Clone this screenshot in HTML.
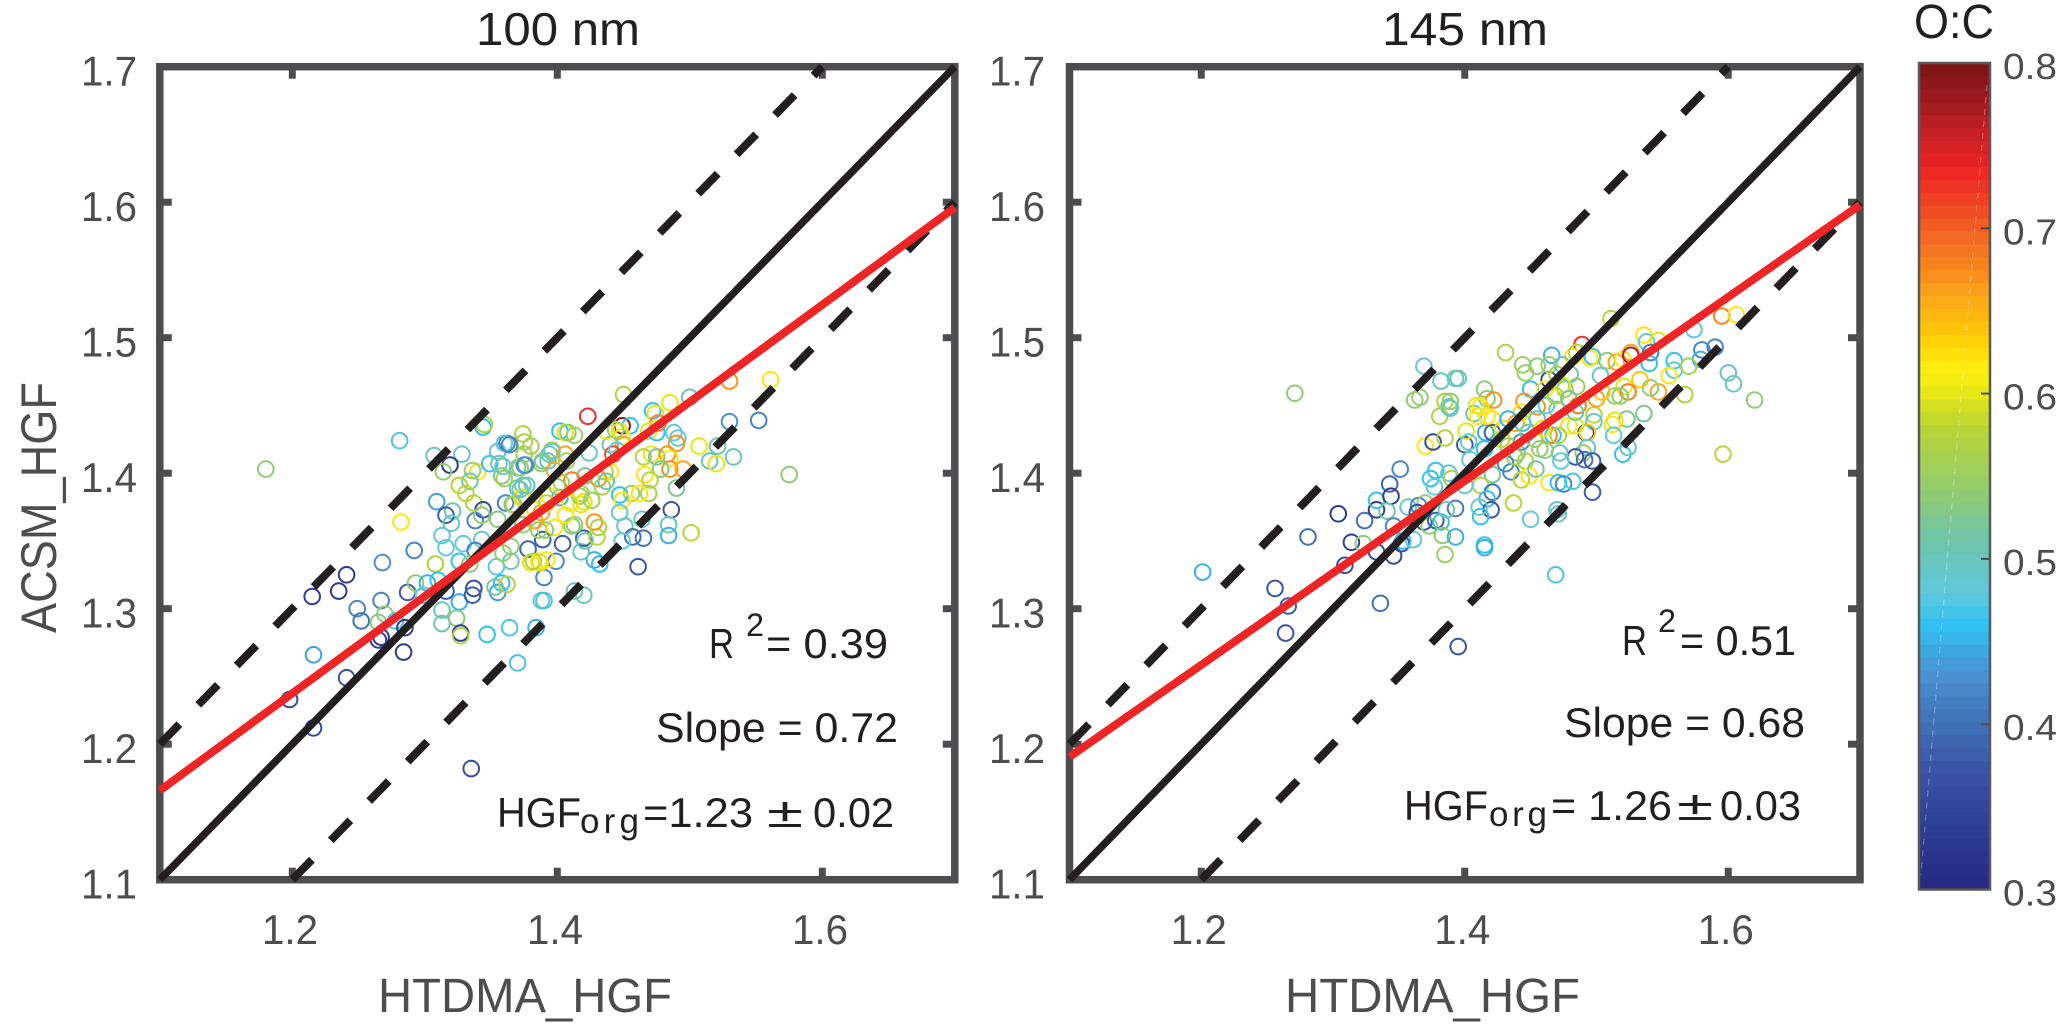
<!DOCTYPE html>
<html>
<head>
<meta charset="utf-8">
<title>ACSM vs HTDMA HGF</title>
<style>
html,body{margin:0;padding:0;background:#fff}
svg{display:block}
text{font-family:"Liberation Sans",sans-serif}
.dark{fill:#231f20}
.gray{fill:#4d4d4f}
</style>
</head>
<body>
<svg id="chart" width="2067" height="1026" viewBox="0 0 2067 1026" xmlns="http://www.w3.org/2000/svg">
<rect width="2067" height="1026" fill="#fff"/>
<g id="panel-a"></g>
<g id="panel-b"></g>
<g id="colorbar"></g>

<text class="dark" x="476" y="45" font-size="46" textLength="164" lengthAdjust="spacingAndGlyphs">100 nm</text>
<text class="dark" x="1382" y="45" font-size="46" textLength="166" lengthAdjust="spacingAndGlyphs">145 nm</text>
<text class="dark" x="1914" y="38" font-size="48" textLength="80" lengthAdjust="spacingAndGlyphs">O:C</text>

<text class="gray" transform="translate(56,633) rotate(-90)" font-size="50" textLength="251" lengthAdjust="spacingAndGlyphs">ACSM_HGF</text>
<text class="gray" x="378" y="1012" font-size="48" textLength="294" lengthAdjust="spacingAndGlyphs">HTDMA_HGF</text>
<text class="gray" x="1285" y="1012" font-size="48" textLength="295" lengthAdjust="spacingAndGlyphs">HTDMA_HGF</text>

<g class="dark">
<text x="709" y="658" font-size="42" textLength="25" lengthAdjust="spacingAndGlyphs">R</text>
<text x="746" y="636" font-size="32" textLength="18" lengthAdjust="spacingAndGlyphs">2</text>
<text x="766" y="658" font-size="42" textLength="122" lengthAdjust="spacingAndGlyphs">= 0.39</text>
<text x="656" y="742" font-size="42" textLength="242" lengthAdjust="spacingAndGlyphs">Slope = 0.72</text>
<text x="497" y="827" font-size="42" textLength="84" lengthAdjust="spacingAndGlyphs">HGF</text>
<text x="580" y="833" font-size="35" textLength="59" lengthAdjust="spacing">org</text>
<text x="643" y="827" font-size="42" textLength="110" lengthAdjust="spacingAndGlyphs">=1.23</text>
<text x="767" y="827" font-size="42" textLength="36" lengthAdjust="spacingAndGlyphs">±</text>
<text x="813" y="827" font-size="42" textLength="81" lengthAdjust="spacingAndGlyphs">0.02</text>
</g>
<g class="dark">
<text x="1622" y="655" font-size="42" textLength="25" lengthAdjust="spacingAndGlyphs">R</text>
<text x="1658" y="632" font-size="32" textLength="18" lengthAdjust="spacingAndGlyphs">2</text>
<text x="1680" y="655" font-size="42" textLength="116" lengthAdjust="spacingAndGlyphs">= 0.51</text>
<text x="1564" y="737" font-size="42" textLength="241" lengthAdjust="spacingAndGlyphs">Slope = 0.68</text>
<text x="1404" y="820" font-size="42" textLength="84" lengthAdjust="spacingAndGlyphs">HGF</text>
<text x="1489" y="826" font-size="35" textLength="58" lengthAdjust="spacing">org</text>
<text x="1551" y="820" font-size="42" textLength="121" lengthAdjust="spacingAndGlyphs">= 1.26</text>
<text x="1677" y="820" font-size="42" textLength="36" lengthAdjust="spacingAndGlyphs">±</text>
<text x="1720" y="820" font-size="42" textLength="81" lengthAdjust="spacingAndGlyphs">0.03</text>
</g>
</svg>
<script>
const xTickValues = [1.2, 1.4, 1.6];
const yTickValues = [1.1, 1.2, 1.3, 1.4, 1.5, 1.6, 1.7];
const xDomain = [1.1, 1.7];
const yDomain = [1.1, 1.7];
const fitSlope100 = 0.717;
const fitIntercept100 = 0.3771;
const fitSlope145 = 0.679;
const fitIntercept145 = 0.4437;
const oneToOneOffset = [0, 0.1, -0.1];
const colorbarTicks = [0.3, 0.4, 0.5, 0.6, 0.7, 0.8];
const colorStopValues = [0.30,0.34,0.37,0.40,0.43,0.46,0.48,0.513,0.537,0.58,0.60,0.614,0.635,0.66,0.68,0.70,0.72,0.737,0.76,0.775,0.80];
const colorStopHexes = ["#27297f","#2f3f98","#3a52a4","#4070b5","#4a90cf","#30c0f2","#62c8dc","#6fc4a8","#8ecb78","#b9d433","#e5e616","#fdf010","#ffcc05","#fba51a","#f7811f","#f15f24","#ef3b24","#ee2424","#c22026","#a01c20","#7a1416"];

const htdma100 = [
1.180,1.281,1.344,1.345,1.307,1.328,1.319,1.314,1.340,1.336,
1.349,1.356,1.355,1.362,1.374,1.375,1.380,1.375,1.375,1.370,
1.358,1.374,1.370,1.388,1.394,1.334,1.326,1.331,1.337,1.309,
1.344,1.321,1.316,1.338,1.343,1.320,1.355,1.361,1.366,1.373,
1.282,1.313,1.316,1.329,1.343,1.338,1.292,1.268,1.308,1.326,
1.334,1.354,1.365,1.359,1.365,1.378,1.389,1.374,1.386,1.380,
1.386,1.241,1.235,1.215,1.249,1.252,1.267,1.287,1.293,1.302,
1.310,1.316,1.299,1.326,1.337,1.336,1.355,1.358,1.353,1.362,
1.390,1.388,1.313,1.313,1.324,1.327,1.327,1.347,1.364,1.384,
1.270,1.265,1.278,1.285,1.267,1.265,1.284,1.216,1.370,1.241,
1.198,1.216,1.335,1.450,1.423,1.402,1.406,1.408,1.413,1.449,
1.455,1.447,1.449,1.450,1.440,1.437,1.444,1.472,1.474,1.485,
1.500,1.476,1.469,1.475,1.488,1.491,1.490,1.507,1.521,1.530,
1.561,1.530,1.552,1.533,1.515,1.520,1.575,1.471,1.465,1.475,
1.483,1.485,1.485,1.495,1.478,1.442,1.436,1.440,1.466,1.470,
1.431,1.490,1.469,1.456,1.462,1.447,1.449,1.486,1.447,1.464,
1.484,1.451,1.501,1.484,1.465,1.457,1.449,1.461,1.432,1.428,
1.390,1.413,1.420,1.399,1.392,1.387,1.382,1.404,1.418,1.420,
1.421,1.430,1.428,1.431,1.413,1.411,1.406,1.398,1.391,1.418,
1.420,1.426,1.417,1.402,1.394,1.388,1.383,1.374,1.367,1.372,
1.377,1.360,1.359,1.372,1.376,1.360,1.364,1.389,1.396,1.396,
1.393,1.406,1.398,1.407,1.424,1.421,1.411,1.403,1.434,1.418,
1.437,1.445,1.383,1.392,1.400,1.410];
const acsm100 = [
1.403,1.424,1.434,1.436,1.413,1.414,1.406,1.401,1.401,1.402,
1.407,1.407,1.416,1.422,1.429,1.423,1.420,1.414,1.406,1.404,
1.398,1.391,1.389,1.407,1.414,1.394,1.391,1.385,1.378,1.379,
1.373,1.372,1.369,1.365,1.369,1.363,1.366,1.378,1.377,1.382,
1.364,1.354,1.345,1.348,1.351,1.343,1.343,1.334,1.333,1.335,
1.333,1.331,1.335,1.341,1.346,1.344,1.351,1.362,1.358,1.334,
1.335,1.325,1.313,1.309,1.300,1.291,1.306,1.312,1.319,1.319,
1.321,1.313,1.310,1.305,1.315,1.310,1.312,1.319,1.316,1.318,
1.323,1.306,1.299,1.289,1.293,1.282,1.280,1.281,1.286,1.286,
1.296,1.290,1.291,1.286,1.279,1.277,1.268,1.266,1.260,1.249,
1.233,1.212,1.182,1.458,1.442,1.431,1.430,1.430,1.428,1.435,
1.435,1.431,1.427,1.421,1.421,1.431,1.432,1.446,1.444,1.452,
1.456,1.437,1.431,1.430,1.430,1.426,1.422,1.420,1.420,1.468,
1.469,1.438,1.439,1.412,1.409,1.407,1.399,1.414,1.412,1.412,
1.414,1.411,1.403,1.403,1.403,1.414,1.401,1.401,1.399,1.395,
1.396,1.389,1.385,1.385,1.385,1.384,1.380,1.373,1.371,1.366,
1.362,1.361,1.356,1.354,1.352,1.353,1.350,1.331,1.333,1.336,
1.306,1.313,1.310,1.335,1.336,1.334,1.335,1.348,1.342,1.352,
1.350,1.353,1.364,1.360,1.362,1.361,1.369,1.360,1.358,1.377,
1.379,1.380,1.383,1.382,1.383,1.371,1.373,1.382,1.377,1.388,
1.391,1.396,1.405,1.404,1.406,1.422,1.421,1.409,1.417,1.416,
1.409,1.414,1.402,1.409,1.415,1.398,1.395,1.393,1.390,1.385,
1.394,1.417,1.365,1.378,1.390,1.378];
const oc100 = [
.54,.47,.46,.57,.5,.5,.33,.54,.62,.55,
.46,.5,.5,.42,.57,.57,.56,.56,.43,.52,
.53,.5,.5,.54,.5,.5,.58,.58,.57,.44,
.36,.5,.38,.42,.54,.49,.53,.42,.52,.6,
.62,.48,.48,.48,.5,.42,.42,.43,.57,.46,
.54,.48,.5,.54,.54,.39,.38,.54,.55,.6,
.62,.33,.33,.34,.42,.40,.42,.38,.54,.45,
.46,.38,.48,.45,.36,.38,.44,.46,.52,.57,
.42,.48,.5,.51,.53,.34,.57,.46,.47,.45,
.54,.53,.47,.33,.33,.34,.33,.44,.47,.37,
.36,.36,.36,.57,.73,.46,.6,.54,.55,.79,
.46,.6,.62,.66,.5,.6,.56,.46,.6,.6,
.5,.68,.6,.46,.48,.48,.67,.6,.5,.67,
.62,.43,.42,.5,.5,.6,.54,.6,.58,.52,
.67,.62,.67,.66,.53,.71,.58,.62,.62,.58,
.67,.52,.56,.55,.62,.46,.62,.37,.48,.5,
.5,.5,.58,.45,.4,.4,.48,.37,.46,.45,
.47,.5,.5,.42,.62,.6,.58,.38,.5,.38,
.5,.58,.67,.57,.54,.53,.62,.62,.54,.6,
.6,.55,.55,.45,.62,.66,.6,.6,.57,.5,
.5,.56,.5,.54,.43,.48,.42,.53,.57,.48,
.5,.66,.66,.56,.5,.52,.68,.57,.56,.56,
.5,.48,.66,.58,.54,.62];

const htdma145 = [
1.201,1.281,1.304,1.324,1.314,1.323,1.333,1.309,1.333,1.333,
1.343,1.344,1.351,1.341,1.346,1.352,1.346,1.353,1.361,1.357,
1.365,1.370,1.364,1.369,1.373,1.378,1.374,1.377,1.388,1.390,
1.378,1.382,1.383,1.393,1.385,1.393,1.386,1.256,1.266,1.264,
1.336,1.395,1.370,1.376,1.385,1.400,1.401,1.403,1.381,1.388,
1.362,1.385,1.271,1.431,1.511,1.489,1.466,1.482,1.485,1.497,
1.495,1.508,1.515,1.520,1.526,1.526,1.536,1.538,1.547,1.541,
1.540,1.574,1.595,1.606,1.590,1.580,1.579,1.559,1.559,1.570,
1.555,1.600,1.604,1.620,1.567,1.547,1.541,1.533,1.521,1.524,
1.518,1.514,1.503,1.485,1.536,1.523,1.514,1.512,1.513,1.498,
1.500,1.486,1.470,1.498,1.492,1.493,1.479,1.484,1.467,1.464,
1.471,1.520,1.524,1.596,1.493,1.490,1.484,1.491,1.497,1.473,
1.472,1.461,1.457,1.446,1.440,1.443,1.464,1.476,1.470,1.450,
1.461,1.445,1.455,1.444,1.446,1.455,1.464,1.474,1.480,1.393,
1.415,1.417,1.422,1.407,1.409,1.410,1.421,1.389,1.389,1.416,
1.421,1.429,1.444,1.439,1.404,1.421,1.431,1.435,1.443,1.449,
1.454,1.464,1.471,1.475,1.482,1.497,1.437,1.412,1.400,1.421,
1.417,1.420,1.411,1.412,1.450,1.470,1.471,1.469,1.415,1.415,
1.369,1.382,1.395,1.366,1.412,1.417,1.433,1.438,1.428,1.415,
1.448,1.455,1.462,1.469,1.474,1.479,1.453,1.459,1.443,1.433,
1.484,1.504];
const acsm145 = [
1.327,1.353,1.370,1.365,1.349,1.348,1.342,1.332,1.373,1.380,
1.392,1.383,1.403,1.372,1.361,1.348,1.339,1.350,1.351,1.375,
1.376,1.378,1.371,1.364,1.361,1.402,1.396,1.390,1.400,1.396,
1.365,1.364,1.354,1.353,1.340,1.374,1.373,1.315,1.302,1.282,
1.304,1.272,1.420,1.423,1.426,1.421,1.431,1.423,1.442,1.449,
1.454,1.453,1.459,1.489,1.514,1.495,1.487,1.486,1.489,1.486,
1.485,1.483,1.482,1.484,1.489,1.487,1.502,1.497,1.498,1.489,
1.481,1.506,1.516,1.517,1.493,1.491,1.484,1.483,1.476,1.479,
1.472,1.474,1.466,1.454,1.458,1.460,1.463,1.469,1.464,1.460,
1.457,1.457,1.472,1.464,1.444,1.440,1.439,1.436,1.428,1.443,
1.455,1.450,1.447,1.438,1.430,1.430,1.435,1.435,1.428,1.428,
1.428,1.414,1.419,1.414,1.419,1.415,1.412,1.410,1.409,1.409,
1.415,1.417,1.418,1.409,1.415,1.423,1.469,1.462,1.473,1.462,
1.462,1.453,1.449,1.480,1.474,1.479,1.480,1.480,1.473,1.470,
1.462,1.455,1.454,1.444,1.450,1.442,1.440,1.453,1.448,1.430,
1.430,1.433,1.437,1.437,1.410,1.399,1.407,1.401,1.395,1.398,
1.403,1.393,1.393,1.392,1.394,1.386,1.378,1.391,1.391,1.386,
1.381,1.373,1.375,1.368,1.366,1.373,1.370,1.325,1.347,1.345,
1.479,1.468,1.470,1.456,1.449,1.442,1.420,1.412,1.425,1.418,
1.430,1.440,1.450,1.457,1.465,1.455,1.425,1.433,1.445,1.440,
1.445,1.460];
const oc145 = [
.45,.4,.33,.4,.34,.54,.35,.36,.34,.46,
.39,.34,.42,.51,.42,.36,.35,.46,.48,.48,
.42,.54,.36,.38,.54,.46,.46,.48,.48,.57,
.38,.46,.54,.45,.55,.41,.5,.37,.38,.37,
.4,.37,.62,.36,.57,.38,.6,.48,.57,.5,
.54,.57,.54,.57,.58,.73,.45,.62,.58,.46,
.62,.54,.66,.62,.66,.77,.62,.48,.6,.42,
.46,.48,.68,.62,.42,.42,.45,.46,.48,.56,
.62,.5,.5,.54,.57,.66,.54,.64,.6,.68,
.54,.55,.5,.55,.52,.52,.6,.62,.48,.58,
.66,.68,.53,.48,.36,.64,.62,.6,.46,.68,
.57,.46,.5,.58,.48,.55,.37,.4,.38,.48,
.5,.54,.54,.57,.54,.43,.36,.55,.57,.46,
.62,.67,.67,.55,.55,.54,.55,.5,.5,.5,
.54,.54,.67,.5,.6,.62,.62,.54,.5,.45,
.38,.6,.46,.66,.48,.52,.42,.42,.58,.62,
.52,.62,.46,.42,.47,.38,.58,.57,.48,.4,
.46,.37,.5,.46,.48,.5,.5,.47,.46,.45,
.48,.5,.5,.54,.62,.62,.54,.55,.58,.46,
.52,.5,.48,.57,.6,.52,.55,.6,.62,.45,
.5,.64];

const NS = 'http://www.w3.org/2000/svg';
const AXIS_GRAY = '#4d4d4f';
const INK = '#231f20';

function svgEl(tag, parent) {
  const el = document.createElementNS(NS, tag);
  parent.appendChild(el);
  return el;
}
function hexToRgb(h) {
  return [parseInt(h.slice(1,3),16), parseInt(h.slice(3,5),16), parseInt(h.slice(5,7),16)];
}
function colorFor(v) {
  const n = colorStopValues.length;
  if (v <= colorStopValues[0]) return colorStopHexes[0];
  if (v >= colorStopValues[n-1]) return colorStopHexes[n-1];
  for (let i = 1; i < n; i++) {
    if (v <= colorStopValues[i]) {
      const t = (v - colorStopValues[i-1]) / (colorStopValues[i] - colorStopValues[i-1]);
      const a = hexToRgb(colorStopHexes[i-1]);
      const b = hexToRgb(colorStopHexes[i]);
      return 'rgb(' + a.map(function (c, k) { return Math.round(c + (b[k] - c) * t); }).join(',') + ')';
    }
  }
  return colorStopHexes[n-1];
}
function drawLine(g, x1, y1, x2, y2, color, width, dash) {
  const l = svgEl('line', g);
  l.setAttribute('x1', x1);
  l.setAttribute('y1', y1);
  l.setAttribute('x2', x2);
  l.setAttribute('y2', y2);
  l.setAttribute('stroke', color);
  l.setAttribute('stroke-width', width);
  if (dash) l.setAttribute('stroke-dasharray', dash);
  return l;
}
function drawPanel(g, box, xVals, yVals, ocVals, fitSlope, fitIntercept, yLabelEnd, xLabelShift) {
  const sx = function (v) { return box.left + (v - xDomain[0]) / (xDomain[1] - xDomain[0]) * (box.right - box.left); };
  const sy = function (v) { return box.bottom - (v - yDomain[0]) / (yDomain[1] - yDomain[0]) * (box.bottom - box.top); };

  const frame = svgEl('rect', g);
  
  
  frame.setAttribute('x', box.left);
  frame.setAttribute('y', box.top);
  frame.setAttribute('width', box.right - box.left);
  frame.setAttribute('height', box.bottom - box.top);
  frame.setAttribute('fill', 'none');
  frame.setAttribute('stroke', AXIS_GRAY);
  frame.setAttribute('stroke-width', 7.5);

  xTickValues.forEach(function (v) {
    const b = drawLine(g, sx(v), box.bottom, sx(v), box.bottom - 12, AXIS_GRAY, 7);
    
    
    const t = drawLine(g, sx(v), box.top, sx(v), box.top + 12, AXIS_GRAY, 7);
    
    
    const lab = svgEl('text', g);
    
    
    lab.setAttribute('x', sx(v) + xLabelShift);
    lab.setAttribute('y', 944);
    lab.setAttribute('text-anchor', 'middle');
    lab.setAttribute('font-size', 42);
    lab.setAttribute('fill', AXIS_GRAY);
    lab.setAttribute('textLength', 56);
    lab.setAttribute('lengthAdjust', 'spacingAndGlyphs');
    lab.textContent = v.toFixed(1);
  });
  yTickValues.forEach(function (v) {
    if (v > yDomain[0] && v < yDomain[1]) {
      const a = drawLine(g, box.left, sy(v), box.left + 12, sy(v), AXIS_GRAY, 7);
      
      
      const c = drawLine(g, box.right, sy(v), box.right - 12, sy(v), AXIS_GRAY, 7);
      
      
    }
    const lab = svgEl('text', g);
    
    
    lab.setAttribute('x', yLabelEnd);
    lab.setAttribute('y', sy(v) + 19);
    lab.setAttribute('text-anchor', 'end');
    lab.setAttribute('font-size', 42);
    lab.setAttribute('fill', AXIS_GRAY);
    lab.setAttribute('textLength', 56);
    lab.setAttribute('lengthAdjust', 'spacingAndGlyphs');
    lab.textContent = v.toFixed(1);
  });

  const n = Math.min(xVals.length, yVals.length, ocVals.length);
  for (let i = 0; i < n; i++) {
    const c = svgEl('circle', g);
    
    
    c.setAttribute('cx', sx(xVals[i]).toFixed(1));
    c.setAttribute('cy', sy(yVals[i]).toFixed(1));
    c.setAttribute('r', 7.8);
    c.setAttribute('fill', 'none');
    c.setAttribute('stroke', colorFor(ocVals[i]));
    c.setAttribute('stroke-width', 2);
  }

  oneToOneOffset.forEach(function (off) {
    const x0 = Math.max(xDomain[0], yDomain[0] - off);
    const x1 = Math.min(xDomain[1], yDomain[1] - off);
    const l = drawLine(g, sx(x0), sy(x0 + off), sx(x1), sy(x1 + off), INK, off === 0 ? 7.5 : 8, off === 0 ? null : '28 27');
    
    
  });

  const fit = drawLine(g, sx(xDomain[0]), sy(fitSlope * xDomain[0] + fitIntercept), sx(xDomain[1]), sy(fitSlope * xDomain[1] + fitIntercept), '#ee2524', 8);
  
  
}

function drawColorbar(g) {
  const box = { left: 1919, right: 1990, top: 63, bottom: 889.5 };
  const lo = colorbarTicks[0];
  const hi = colorbarTicks[colorbarTicks.length - 1];
  const sy = function (v) { return box.bottom - (v - lo) / (hi - lo) * (box.bottom - box.top); };
  const bands = 64;
  for (let i = 0; i < bands; i++) {
    const v0 = lo + (hi - lo) * i / bands;
    const v1 = lo + (hi - lo) * (i + 1) / bands;
    const r = svgEl('rect', g);
    
    
    r.setAttribute('x', box.left);
    r.setAttribute('y', sy(v1));
    r.setAttribute('width', box.right - box.left);
    r.setAttribute('height', sy(v0) - sy(v1) + 0.6);
    r.setAttribute('fill', colorFor((v0 + v1) / 2));
  }
  const seam = drawLine(g, 1987, 85, 1921, 875, '#ffffff', 1, '6 6');
  
  
  seam.setAttribute('stroke-opacity', '0.35');
  const outline = svgEl('rect', g);
  
  
  outline.setAttribute('x', box.left);
  outline.setAttribute('y', box.top);
  outline.setAttribute('width', box.right - box.left);
  outline.setAttribute('height', box.bottom - box.top);
  outline.setAttribute('fill', 'none');
  outline.setAttribute('stroke', '#58595b');
  outline.setAttribute('stroke-width', 2.5);
  colorbarTicks.forEach(function (v) {
    if (v > lo && v < hi) {
      const t = drawLine(g, box.right - 9, sy(v), box.right, sy(v), '#4d4d4f', 2);
      
      
    }
    const lab = svgEl('text', g);
    
    
    lab.setAttribute('x', 2003);
    lab.setAttribute('y', sy(v) + 16);
    lab.setAttribute('font-size', 36);
    lab.setAttribute('fill', AXIS_GRAY);
    lab.setAttribute('textLength', 54);
    lab.setAttribute('lengthAdjust', 'spacingAndGlyphs');
    lab.textContent = v.toFixed(1);
  });
}

drawPanel(document.getElementById('panel-a'), { left: 159.8, right: 954.8, top: 66.7, bottom: 879.7 }, htdma100, acsm100, oc100, fitSlope100, fitIntercept100, 137, -2.3);
drawPanel(document.getElementById('panel-b'), { left: 1069.5, right: 1860, top: 66.7, bottom: 879.7 }, htdma145, acsm145, oc145, fitSlope145, fitIntercept145, 1045, -2.5);
drawColorbar(document.getElementById('colorbar'));
</script>
</body>
</html>
